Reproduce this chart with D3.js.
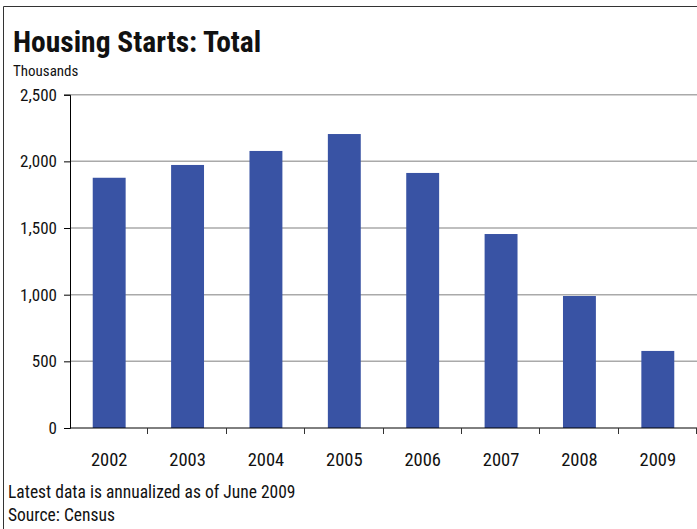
<!DOCTYPE html>
<html>
<head>
<meta charset="utf-8">
<script src="https://cdn.jsdelivr.net/npm/d3@7"></script>
<style>
  body { margin: 0; background: #fff; }
  text { font-family: "Liberation Sans Narrow", "Arial Narrow", "Roboto Condensed", sans-serif; fill: #111; }
</style>
</head>
<body>
<div id="chart"></div>
<script>
// Housing starts, thousands
var years = ["2002", "2003", "2004", "2005", "2006", "2007", "2008", "2009"];
var starts = [1877, 1973, 2078, 2205, 1913, 1455, 990, 578];
var yTicks = [0, 500, 1000, 1500, 2000, 2500];

var width = 697;
var height = 529;

var svg = d3.select("#chart")
  .append("svg")
  .attr("width", width)
  .attr("height", height);

// frame
svg.append("path")
  .attr("d", "M3.5," + height + "V6.5H" + width)
  .attr("fill", "none")
  .attr("stroke", "#333")
  .attr("stroke-width", 1);

// scales
var xScale = d3.scaleBand()
  .domain(years)
  .range([70, 697])
  .paddingInner(0.58)
  .paddingOuter(0.29);

var yScale = d3.scaleLinear()
  .domain([0, 2500])
  .range([428, 94.7]);

// gridlines
svg.append("g")
  .selectAll("line")
  .data(yTicks.filter(d => d > 0))
  .enter()
  .append("line")
  .attr("x1", 70)
  .attr("x2", width)
  .attr("y1", d => yScale(d))
  .attr("y2", d => yScale(d))
  .attr("stroke", "#aaa")
  .attr("stroke-width", 1.5);

// bars
svg.selectAll("rect.bar")
  .data(starts)
  .enter()
  .append("rect")
  .attr("class", "bar")
  .attr("x", (d, i) => xScale(years[i]))
  .attr("y", d => yScale(d))
  .attr("width", xScale.bandwidth())
  .attr("height", d => yScale(0) - yScale(d))
  .attr("fill", "#3953a4");

// y axis
var yAxis = svg.append("g")
  .attr("transform", "translate(70,0)")
  .call(d3.axisLeft(yScale).tickValues(yTicks).tickSize(6).tickPadding(7).tickFormat(d3.format(",")));
yAxis.select(".domain").attr("stroke", "#000");
yAxis.selectAll(".tick line").attr("stroke", "#000");
yAxis.selectAll(".tick text")
  .attr("font-size", 17)
  .attr("font-family", null)
  .attr("fill", "#111");

// x axis: ticks at category boundaries
var step = xScale.step();
var xAxis = svg.append("g")
  .attr("transform", "translate(0,428)");
xAxis.append("line")
  .attr("x1", 70)
  .attr("x2", width)
  .attr("stroke", "#000");
xAxis.selectAll("line.tk")
  .data(years)
  .enter()
  .append("line")
  .attr("class", "tk")
  .attr("x1", d => Math.round(xScale(d) + xScale.bandwidth() / 2 + step / 2) - 0.5)
  .attr("x2", d => Math.round(xScale(d) + xScale.bandwidth() / 2 + step / 2) - 0.5)
  .attr("y1", 0)
  .attr("y2", 6)
  .attr("stroke", "#333");
xAxis.selectAll("text")
  .data(years)
  .enter()
  .append("text")
  .attr("x", d => xScale(d) + xScale.bandwidth() / 2)
  .attr("y", 38)
  .attr("text-anchor", "middle")
  .attr("font-size", 18.5)
  .text(d => d);

// titles
svg.append("text")
  .attr("x", 13)
  .attr("y", 52)
  .attr("font-size", 29.5)
  .attr("font-weight", "bold")
  .text("Housing Starts: Total");

svg.append("text")
  .attr("x", 13)
  .attr("y", 76)
  .attr("font-size", 15)
  .text("Thousands");

// footer
svg.append("text")
  .attr("x", 8)
  .attr("y", 498)
  .attr("font-size", 17.5)
  .text("Latest data is annualized as of June 2009");

svg.append("text")
  .attr("x", 8)
  .attr("y", 521)
  .attr("font-size", 17.5)
  .text("Source: Census");
</script>
</body>
</html>
